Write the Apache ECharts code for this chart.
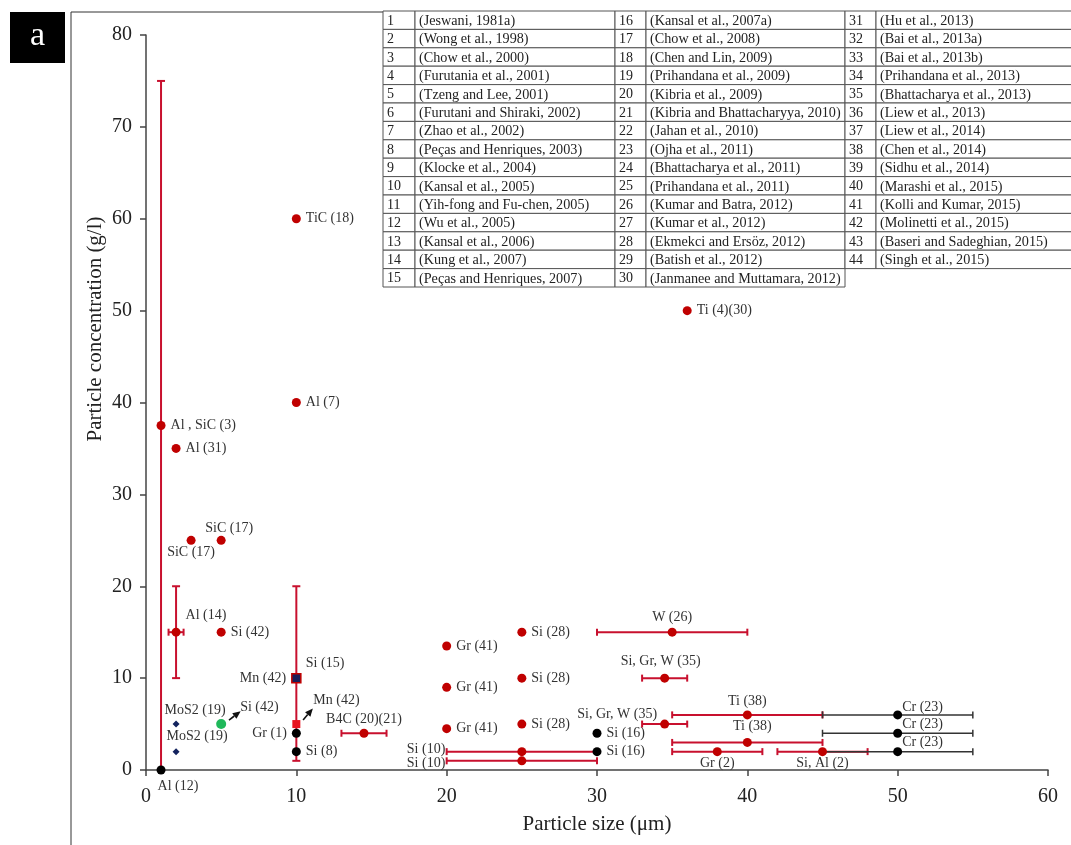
<!DOCTYPE html>
<html><head><meta charset="utf-8">
<script src="https://cdn.jsdelivr.net/npm/echarts@6/dist/echarts.min.js"></script>
<style>html,body{margin:0;padding:0;background:#fff}#c{width:1071px;height:845px}</style>
</head><body><div id="c"></div><script>
// ---------- DATA ----------
const redNames = ["Al , SiC (3)","Al (31)","SiC (17)","SiC (17)","Al (14)","Si (42)","TiC (18)","Al (7)","Ti (4)(30)","B4C (20)(21)","Gr (41)","Gr (41)","Gr (41)","Si (28)","Si (28)","Si (28)","Si (10)","Si (10)","W (26)","Si, Gr, W (35)","Si, Gr, W (35)","Ti (38)","Ti (38)","Gr (2)","Si, Al (2)","Si (15)"];
const redX = [1,2,3,5,2,5,10,10,36,14.5,20,20,20,25,25,25,25,25,35,34.5,34.5,40,40,38,45,10];
const redY = [37.5,35,25,25,15,15,60,40,50,4,13.5,9,4.5,15,10,5,2,1,15,10,5,6,3,2,2,10];

const blackNames = ["Al (12)","Gr (1)","Si (8)","Si (16)","Si (16)","Cr (23)","Cr (23)","Cr (23)"];
const blackX = [1,10,10,30,30,50,50,50];
const blackY = [0,4,2,4,2,6,4,2];

const mos2Names = ["MoS2 (19)","MoS2 (19)"];
const mos2X = [2,2];
const mos2Y = [5,2];

const greenNames = ["Si (42)"];
const greenX = [5];
const greenY = [5];

const mnRedNames = ["Mn (42)"];
const mnRedX = [10];
const mnRedY = [5];

const mnNavyNames = ["Mn (42)"];
const mnNavyX = [10];
const mnNavyY = [10];

// error bars: [x, y, low, high]
const yErrRed = [[1,37.5,0,75],[2,15,10,20],[10,10,1,20]];
const xErrRed = [[2,15,1.5,2.5],[14.5,4,13,16],[25,2,20,30],[25,1,20,30],[35,15,30,40],[34.5,10,33,36],[34.5,5,33,36],[40,6,35,45],[40,3,35,45],[38,2,35,41],[45,2,42,48]];
const xErrBlack = [[50,6,45,55],[50,4,45,55],[50,2,45,55]];

// annotation arrows [x1, y1, x2, y2]
const arrows = [[5.52,5.44,6.3,6.4],[10.45,5.44,11.1,6.7]];

const refNums = Array.from({length:44},(_,i)=>String(i+1));
const refNames = ["(Jeswani, 1981a)","(Wong et al., 1998)","(Chow et al., 2000)","(Furutania et al., 2001)","(Tzeng and Lee, 2001)","(Furutani and Shiraki, 2002)","(Zhao et al., 2002)","(Peças and Henriques, 2003)","(Klocke et al., 2004)","(Kansal et al., 2005)","(Yih-fong and Fu-chen, 2005)","(Wu et al., 2005)","(Kansal et al., 2006)","(Kung et al., 2007)","(Peças and Henriques, 2007)",
"(Kansal et al., 2007a)","(Chow et al., 2008)","(Chen and Lin, 2009)","(Prihandana et al., 2009)","(Kibria et al., 2009)","(Kibria and Bhattacharyya, 2010)","(Jahan et al., 2010)","(Ojha et al., 2011)","(Bhattacharya et al., 2011)","(Prihandana et al., 2011)","(Kumar and Batra, 2012)","(Kumar et al., 2012)","(Ekmekci and Ersöz, 2012)","(Batish et al., 2012)","(Janmanee and Muttamara, 2012)",
"(Hu et al., 2013)","(Bai et al., 2013a)","(Bai et al., 2013b)","(Prihandana et al., 2013)","(Bhattacharya et al., 2013)","(Liew et al., 2013)","(Liew et al., 2014)","(Chen et al., 2014)","(Sidhu et al., 2014)","(Marashi et al., 2015)","(Kolli and Kumar, 2015)","(Molinetti et al., 2015)","(Baseri and Sadeghian, 2015)","(Singh et al., 2015)"];

// ---------- LAYOUT / STYLE ----------
const FONT = 'Liberation Serif';
const redLayout = [
 {p:'right'},{p:'right'},{p:'bottom',d:1},{p:'top',d:0,o:[8,0]},{p:'right',o:[0,-17]},{p:'right'},
 {p:'right'},{p:'right'},{p:'right'},{p:'top',d:2},
 {p:'right'},{p:'right'},{p:'right'},{p:'right'},{p:'right'},{p:'right'},
 {p:'left',o:[-67,-2]},{p:'left',o:[-67,3]},
 {p:'top',d:3},{p:'top',o:[-4,0]},{p:'left',o:[2,-10]},
 {p:'top',d:2},{p:'top',o:[5,0]},{p:'bottom',d:0},{p:'bottom',d:0},{p:'right',o:[0,-15]}
];
const blackLayout = [{p:'bottom',o:[17,0]},{p:'left'},{p:'right'},{p:'right'},{p:'right'},{p:'right',o:[-5,-8]},{p:'right',o:[-5,-9]},{p:'right',o:[-5,-9]}];
const mos2Layout = [{p:'top',o:[19,2]},{p:'top',o:[21,0]}];
const greenLayout = [{p:'right',o:[9,-17]}];
const mnRedLayout = [{p:'right',o:[8,-24]}];
const mnNavyLayout = [{p:'left'}];

function mk(names, xs, ys, layout){
  return names.map((n,i)=>{
    const L = layout[i] || {p:'right'};
    return {value:[xs[i], ys[i]], name:n, label:{show:true, position:L.p, distance:(L.d!==undefined?L.d:5), offset:L.o||[0,0], formatter:n}};
  });
}
const lblBase = {fontFamily:FONT, fontSize:14, color:'#333'};

function errSeries(data, dir, color, width, cap){
  return {
    type:'custom', clip:false, silent:true, z:2,
    data: data,
    encode:{x:[0,2,3], y:1},
    renderItem:function(params, api){
      const x = api.value(0), y = api.value(1), lo = api.value(2), hi = api.value(3);
      let a, b, caps;
      if(dir==='x'){
        a = api.coord([lo,y]); b = api.coord([hi,y]);
        caps = [[a[0],a[1]-cap,a[0],a[1]+cap],[b[0],b[1]-cap,b[0],b[1]+cap]];
      } else {
        a = api.coord([x,lo]); b = api.coord([x,hi]);
        caps = [[a[0]-cap,a[1],a[0]+cap,a[1]],[b[0]-cap,b[1],b[0]+cap,b[1]]];
      }
      const st = {stroke:color, lineWidth:width};
      const ch = [{type:'line', shape:{x1:a[0],y1:a[1],x2:b[0],y2:b[1]}, style:st}];
      caps.forEach(c=>ch.push({type:'line', shape:{x1:c[0],y1:c[1],x2:c[2],y2:c[3]}, style:st}));
      return {type:'group', children:ch};
    }
  };
}

const arrowSeries = {
  type:'custom', clip:false, silent:true, z:6,
  data: arrows,
  encode:{x:[0,2], y:[1,3]},
  renderItem:function(params, api){
    const a = api.coord([api.value(0), api.value(1)]);
    const b = api.coord([api.value(2), api.value(3)]);
    const ang = Math.atan2(b[1]-a[1], b[0]-a[0]);
    const L = 8, W = 3.5;
    const bx = b[0]-L*Math.cos(ang), by = b[1]-L*Math.sin(ang);
    const p1 = [bx + W*Math.sin(ang), by - W*Math.cos(ang)];
    const p2 = [bx - W*Math.sin(ang), by + W*Math.cos(ang)];
    return {type:'group', children:[
      {type:'line', shape:{x1:a[0],y1:a[1],x2:bx,y2:by}, style:{stroke:'#111', lineWidth:1.6}},
      {type:'polygon', shape:{points:[b,p1,p2]}, style:{fill:'#111'}}
    ]};
  }
};

// table graphics
const tblGroupX = [383, 615, 845];
const tblNumW = [32, 31, 31];
const tblTextW = [200, 199, 226];
const tblTop = 11, tblRowH = 18.4;
const graphics = [];
graphics.push({type:'rect', z:-10, shape:{x:71, y:12, width:1200, height:1000}, style:{fill:'none', stroke:'#333', lineWidth:1}});
graphics.push({type:'rect', z:10, shape:{x:10, y:12, width:55, height:51}, style:{fill:'#000'}});
graphics.push({type:'text', z:11, x:37.5, y:36, style:{text:'a', fill:'#fff', fontFamily:FONT, fontSize:34, align:'center', verticalAlign:'middle'}});
graphics.push({type:'text', z:11, x:95, y:329, rotation:Math.PI/2, style:{text:'Particle concentration (g/l)', fill:'#222', fontFamily:FONT, fontSize:21, align:'center', verticalAlign:'middle'}});
refNames.forEach((nm,i)=>{
  const g = Math.floor(i/15), r = i%15;
  const x0 = tblGroupX[g], y0 = tblTop + r*tblRowH;
  graphics.push({type:'rect', z:20, shape:{x:x0, y:y0, width:tblNumW[g], height:tblRowH}, style:{fill:'#fff', stroke:'#555', lineWidth:1}});
  graphics.push({type:'rect', z:20, shape:{x:x0+tblNumW[g], y:y0, width:tblTextW[g], height:tblRowH}, style:{fill:'#fff', stroke:'#555', lineWidth:1}});
  graphics.push({type:'text', z:21, x:x0+4, y:y0+tblRowH/2+1, style:{text:refNums[i], fill:'#222', fontFamily:FONT, fontSize:14, verticalAlign:'middle'}});
  graphics.push({type:'text', z:21, x:x0+tblNumW[g]+4, y:y0+tblRowH/2+1, style:{text:nm, fill:'#222', fontFamily:FONT, fontSize:14.2, verticalAlign:'middle'}});
});

const axisCol = '#444';
const option = {
  animation:false,
  backgroundColor:'#fff',
  grid:{left:146, right:23, top:35, bottom:75},
  xAxis:{type:'value', min:0, max:60, interval:10,
    axisLine:{lineStyle:{color:axisCol, width:1.5}},
    axisTick:{length:6, lineStyle:{color:axisCol, width:1.5}},
    axisLabel:{fontFamily:FONT, fontSize:20, color:'#222', margin:17},
    splitLine:{show:false},
    name:'Particle size (μm)', nameLocation:'middle', nameGap:44,
    nameTextStyle:{fontFamily:FONT, fontSize:21, color:'#222'}},
  yAxis:{type:'value', min:0, max:80, interval:10,
    axisLine:{show:true, lineStyle:{color:axisCol, width:1.5}},
    axisTick:{show:true, length:6, lineStyle:{color:axisCol, width:1.5}},
    axisLabel:{fontFamily:FONT, fontSize:20, color:'#222', margin:14},
    splitLine:{show:false}},
  graphic:{elements:graphics},
  series:[
    errSeries(yErrRed,'y','#c8102e',2,4),
    errSeries(xErrRed,'x','#c8102e',2,3.5),
    errSeries(xErrBlack,'x','#333',1.5,3.5),
    {type:'scatter', z:3, symbol:'circle', symbolSize:9, itemStyle:{color:'#c00000', opacity:1}, label:lblBase, data:mk(redNames,redX,redY,redLayout)},
    {type:'scatter', z:4, symbol:'circle', symbolSize:9, itemStyle:{color:'#000', opacity:1}, label:lblBase, data:mk(blackNames,blackX,blackY,blackLayout)},
    {type:'scatter', z:4, symbol:'diamond', symbolSize:7, itemStyle:{color:'#13235e', opacity:1}, label:lblBase, data:mk(mos2Names,mos2X,mos2Y,mos2Layout)},
    {type:'scatter', z:4, symbol:'circle', symbolSize:10, itemStyle:{color:'#1fb85a', opacity:1}, label:lblBase, data:mk(greenNames,greenX,greenY,greenLayout)},
    {type:'scatter', z:4, symbol:'rect', symbolSize:8, itemStyle:{color:'#e8141e', opacity:1}, label:lblBase, data:mk(mnRedNames,mnRedX,mnRedY,mnRedLayout)},
    {type:'scatter', z:5, symbol:'rect', symbolSize:9, itemStyle:{color:'#1a1f5a', borderColor:'#c00000', borderWidth:1.5, opacity:1}, label:lblBase, data:mk(mnNavyNames,mnNavyX,mnNavyY,mnNavyLayout)},
    arrowSeries
  ]
};
const chart = echarts.init(document.getElementById('c'), null, {renderer:'canvas'});
chart.setOption(option);
</script></body></html>
